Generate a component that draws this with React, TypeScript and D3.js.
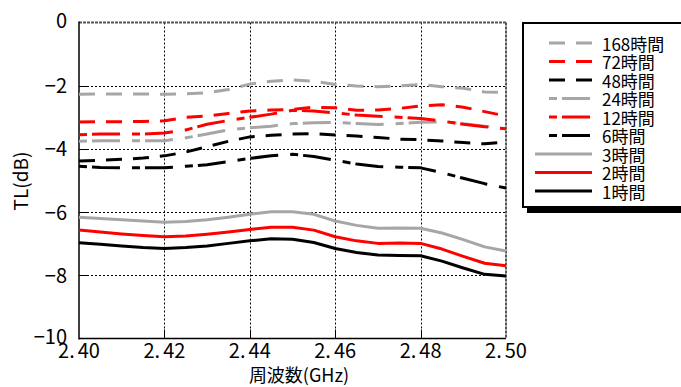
import React from "react";
import * as d3 from "d3";

const freq = [2.400, 2.405, 2.410, 2.415, 2.420, 2.425, 2.430, 2.435, 2.440, 2.445, 2.450, 2.455, 2.460, 2.465, 2.470, 2.475, 2.480, 2.485, 2.490, 2.495, 2.500];

const tl168 = [-2.27, -2.26, -2.26, -2.26, -2.27, -2.26, -2.22, -2.12, -1.95, -1.86, -1.82, -1.86, -1.96, -2.01, -2.03, -2.01, -1.96, -2.03, -2.08, -2.20, -2.21];
const tl72 = [-3.15, -3.14, -3.14, -3.13, -3.11, -3.00, -2.96, -2.88, -2.80, -2.77, -2.75, -2.68, -2.70, -2.78, -2.77, -2.72, -2.64, -2.60, -2.68, -2.82, -2.96];
const tl48 = [-4.38, -4.36, -4.33, -4.29, -4.22, -4.10, -3.93, -3.76, -3.62, -3.57, -3.53, -3.52, -3.56, -3.59, -3.64, -3.69, -3.71, -3.75, -3.80, -3.84, -3.78];
const tl24 = [-3.76, -3.74, -3.74, -3.74, -3.74, -3.65, -3.53, -3.40, -3.33, -3.28, -3.20, -3.17, -3.16, -3.20, -3.23, -3.20, -3.16, -3.14, -3.20, -3.28, -3.37];
const tl12 = [-3.55, -3.53, -3.53, -3.53, -3.50, -3.40, -3.22, -3.10, -3.00, -2.90, -2.78, -2.80, -2.86, -2.93, -2.97, -3.00, -3.04, -3.12, -3.22, -3.30, -3.36];
const tl6 = [-4.55, -4.59, -4.60, -4.60, -4.60, -4.55, -4.50, -4.40, -4.30, -4.22, -4.17, -4.24, -4.36, -4.48, -4.56, -4.58, -4.60, -4.75, -4.93, -5.10, -5.24];
const tl3 = [-6.16, -6.20, -6.24, -6.28, -6.32, -6.30, -6.24, -6.16, -6.07, -5.99, -5.99, -6.07, -6.28, -6.42, -6.51, -6.50, -6.51, -6.66, -6.87, -7.10, -7.23];
const tl2 = [-6.57, -6.63, -6.69, -6.74, -6.78, -6.76, -6.70, -6.63, -6.55, -6.48, -6.48, -6.57, -6.78, -6.91, -6.99, -6.98, -6.99, -7.17, -7.40, -7.62, -7.70];
const tl1 = [-6.97, -7.02, -7.07, -7.12, -7.15, -7.12, -7.07, -6.99, -6.91, -6.84, -6.86, -6.96, -7.15, -7.28, -7.36, -7.37, -7.38, -7.55, -7.77, -7.97, -8.02];

const seriesNames = ["168時間", "72時間", "48時間", "24時間", "12時間", "6時間", "3時間", "2時間", "1時間"];
const seriesValues = [tl168, tl72, tl48, tl24, tl12, tl6, tl3, tl2, tl1];
const seriesColors = ["#a6a6a6", "#ff0000", "#000000", "#a6a6a6", "#ff0000", "#000000", "#a6a6a6", "#ff0000", "#000000"];
const seriesStyles = ["dash", "dash", "dash", "dashdot", "dashdot", "dashdot", "solid", "solid", "solid"];

const xTicks = [2.40, 2.42, 2.44, 2.46, 2.48, 2.50];
const yTicks = [0, -2, -4, -6, -8, -10];

const W = 681;
const H = 387;
const left = 79;
const right = 506;
const top = 22.5;
const bottom = 338.5;
const FONT = "'Noto Sans CJK JP', 'Noto Sans', sans-serif";

const dashArr: Record<string, string | undefined> = {
  dash: "16,11",
  dashdot: "8,5,28,12",
  solid: undefined,
};

export default function App() {
  const x = d3.scaleLinear().domain([2.40, 2.50]).range([left, right]);
  const y = d3.scaleLinear().domain([-10, 0]).range([bottom, top]);
  const line = d3
    .line<number>()
    .x((_, i) => x(freq[i]))
    .y((d) => y(d));
  const px = (v: number) => Math.round(v) + 0.5;

  const drawOrder = [6, 7, 8, 0, 1, 2, 3, 4, 5];

  const legX = 523;
  const legY = 23;
  const rowY0 = 43;
  const rowStep = 18.5;

  return (
    <svg
      width={W}
      height={H}
      style={{ position: "absolute", left: 0, top: 0, display: "block", background: "#fff" }}
      fontFamily={FONT}
    >
      <rect x={0} y={0} width={W} height={H} fill="#fff" />
      {/* grid */}
      {xTicks.slice(1, -1).map((t) => (
        <g key={"gx" + t}>
          <line x1={px(x(t))} x2={px(x(t))} y1={top} y2={bottom} stroke="#000" strokeWidth={1} strokeDasharray="2,2" />
          <line x1={px(x(t))} x2={px(x(t))} y1={bottom - 9} y2={bottom} stroke="#000" strokeWidth={1} />
        </g>
      ))}
      {yTicks.slice(1, -1).map((t) => (
        <g key={"gy" + t}>
          <line x1={left} x2={right} y1={px(y(t))} y2={px(y(t))} stroke="#000" strokeWidth={1} strokeDasharray="2,2" />
          <line x1={left} x2={left + 8} y1={px(y(t))} y2={px(y(t))} stroke="#000" strokeWidth={1} />
        </g>
      ))}
      {/* frame */}
      <line x1={left} x2={right} y1={top} y2={top} stroke="#555" strokeWidth={2} strokeDasharray="3,1" />
      <line x1={right} x2={right} y1={top} y2={bottom} stroke="#555" strokeWidth={2} strokeDasharray="3,1" />
      <line x1={left} x2={left} y1={top - 1} y2={bottom + 1} stroke="#000" strokeWidth={1.5} />
      <line x1={left} x2={right} y1={bottom} y2={bottom} stroke="#000" strokeWidth={1.5} />

      {/* series */}
      {drawOrder.map((i) => (
        <path
          key={"s" + i}
          d={line(seriesValues[i]) || ""}
          fill="none"
          stroke={seriesColors[i]}
          strokeWidth={3}
          strokeDasharray={dashArr[seriesStyles[i]]}
          strokeLinejoin="round"
        />
      ))}

      {/* y tick labels */}
      {yTicks.map((t) => {
        const off = t === 0 || t === -10 ? -3.5 : -1;
        return (
          <text key={"yl" + t} x={67} y={y(t) + off} textAnchor="end" dominantBaseline="central" fontSize={20} fill="#000">
            {t === 0 ? "0" : "\u2212" + Math.abs(t)}
          </text>
        );
      })}
      {/* x tick labels */}
      {xTicks.map((t) => {
        const s = t.toFixed(2);
        return (
          <text key={"xl" + t} x={x(t)} y={358} textAnchor="middle" fontSize={20} fill="#000">
            <tspan>{s.slice(0, 2)}</tspan>
            <tspan dx={3}>{s.slice(2)}</tspan>
          </text>
        );
      })}
      {/* axis titles */}
      <text x={299} y={382} textAnchor="middle" fontSize={18} fill="#000">
        周波数(GHz)
      </text>
      <text
        transform={`translate(28, 181) rotate(-90)`}
        textAnchor="middle"
        fontSize={19}
        fill="#000"
      >
        TL(dB)
      </text>

      {/* legend */}
      <rect x={legX + 4} y={legY + 6} width={200} height={184} fill="#000" />
      <rect x={legX} y={legY} width={200} height={184} fill="#fff" stroke="#000" strokeWidth={2} />
      {seriesNames.map((name, i) => {
        const cy = rowY0 + i * rowStep;
        const solid = seriesStyles[i] === "solid";
        return (
          <g key={"lg" + i}>
            <line
              x1={solid ? 535 : 549}
              x2={592}
              y1={cy}
              y2={cy}
              stroke={seriesColors[i]}
              strokeWidth={3}
              strokeDasharray={dashArr[seriesStyles[i]]}
            />
            <text x={602} y={cy} dominantBaseline="central" fontSize={17} fill="#000">
              {name}
            </text>
          </g>
        );
      })}
    </svg>
  );
}
